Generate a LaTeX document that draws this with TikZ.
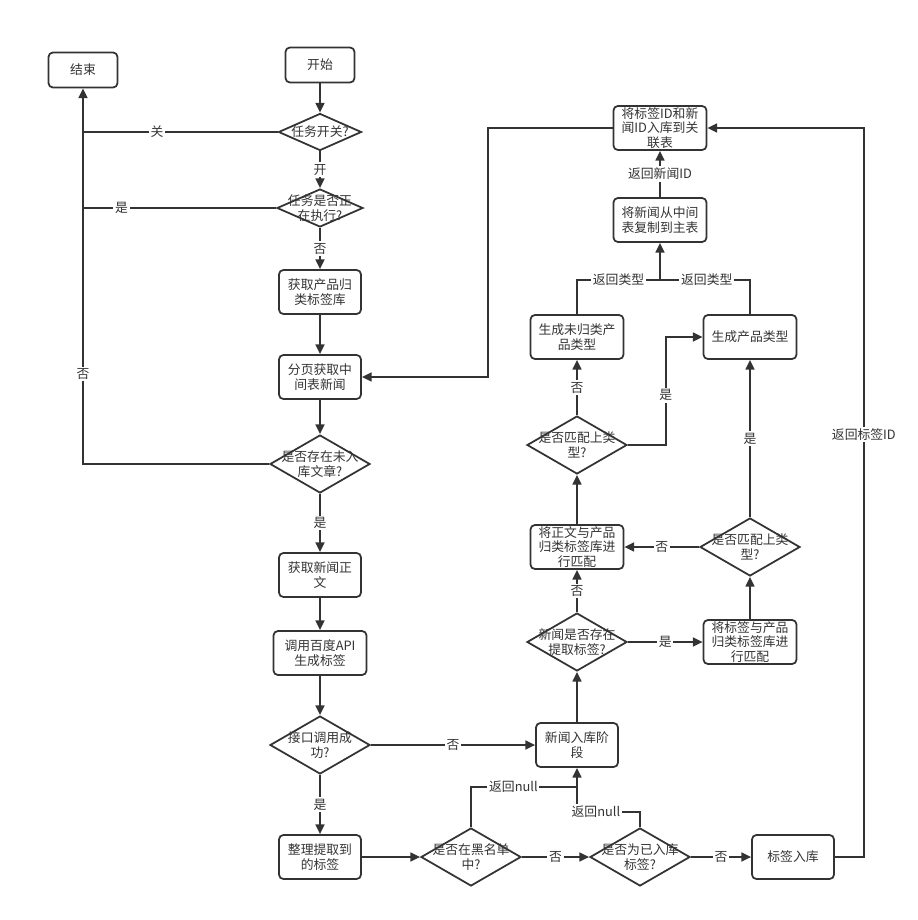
\documentclass[tikz,border=0pt]{standalone}
\usepackage{fontspec}
\setmainfont{Noto Sans CJK SC}
\usetikzlibrary{shapes.geometric,arrows.meta}
\definecolor{ink}{HTML}{333333}
\tikzset{
  box/.style={draw=ink, line width=1pt, rounded corners=2.5pt, minimum width=1.64cm, minimum height=0.88cm, align=center, inner sep=0.5pt, text=ink},
  widebox/.style={box, minimum width=1.86cm},
  termbox/.style={box, minimum width=1.38cm, minimum height=0.7cm},
  decision/.style={draw=ink, line width=1pt, diamond, minimum width=2cm, minimum height=1.16cm, inner sep=0pt, label={[align=center, text=ink]center:#1}},
  line/.style={draw=ink, line width=1pt},
  arr/.style={line, -{Triangle[length=5.5pt,width=5pt]}},
  lbl/.style={fill=white, inner sep=1pt, text=ink},
}
\begin{document}
\begin{tikzpicture}[x=0.02cm, y=-0.02cm, font=\fontsize{7.3}{8.3}\selectfont]
    \useasboundingbox (0,0) rectangle (918,920);
    \node[termbox] (end) at (83,70) {结束};
    \node[termbox] (start) at (320,65) {开始};
    \node[decision={任务开关?}, minimum width=1.66cm, minimum height=0.74cm] (sw) at (320,132) {};
    \node[decision={任务是否正\\在执行?}, minimum width=1.72cm, minimum height=0.76cm] (run) at (320,208) {};
    \node[box] (lib) at (320,292) {获取产品归\\类标签库};
    \node[box] (page) at (320,377) {分页获取中\\间表新闻};
    \node[decision={是否存在未入\\库文章?}] (exist) at (320,464) {};
    \node[box] (body) at (320,575) {获取新闻正\\文};
    \node[widebox] (api) at (320,653) {调用百度API\\生成标签};
    \node[decision={接口调用成\\功?}] (ok) at (320,745) {};
    \node[box] (tidy) at (320,857) {整理提取到\\的标签};
    \node[decision={是否在黑名单\\中?}] (black) at (471,857) {};
    \node[decision={是否为已入库\\标签?}] (stored) at (640,857) {};
    \node[box] (tagin) at (793,857) {标签入库};
    \node[box] (stage) at (577,745) {新闻入库阶\\段};
    \node[decision={新闻是否存在\\提取标签?}] (hastag) at (577,642) {};
    \node[widebox] (tagmatch) at (750,642) {将标签与产品\\归类标签库进\\行匹配};
    \node[decision={是否匹配上类\\型?}] (rmatch) at (750,547) {};
    \node[widebox] (bodymatch) at (577,547) {将正文与产品\\归类标签库进\\行匹配};
    \node[decision={是否匹配上类\\型?}] (lmatch) at (577,445) {};
    \node[widebox] (uncls) at (577,337) {生成未归类产\\品类型};
    \node[widebox] (gen) at (750,337) {生成产品类型};
    \node[widebox] (copy) at (660,220) {将新闻从中间\\表复制到主表};
    \node[widebox] (rel) at (660,128) {将标签ID和新\\闻ID入库到关\\联表};
    \coordinate (merge) at (660,280);
    \coordinate (nullj) at (577,787);
    \coordinate (nullk) at (577,812);
    \draw[arr] (start) -- (sw);
    \draw[arr] (sw) -- node[lbl]{开} (run);
    \draw[arr] (run) -- node[lbl]{否} (lib);
    \draw[arr] (lib) -- (page);
    \draw[arr] (page) -- (exist);
    \draw[arr] (exist) -- node[lbl]{是} (body);
    \draw[arr] (body) -- (api);
    \draw[arr] (api) -- (ok);
    \draw[arr] (ok) -- node[lbl]{是} (tidy);
    \draw[arr] (ok.east) -- node[lbl]{否} (stage.west);
    \draw[line] (sw.west) -- node[lbl, pos=0.62]{关} (sw.west -| end.south);
    \draw[line] (run.west) -- node[lbl, pos=0.8]{是} (run.west -| end.south);
    \draw[arr] (exist.west) -| node[lbl, pos=0.62]{否} (end.south);
    \draw[arr] (tidy) -- (black);
    \draw[arr] (black) -- node[lbl]{否} (stored);
    \draw[arr] (stored) -- node[lbl]{否} (tagin);
    \draw[arr] (tagin.east) -- ++(29,0) |- node[lbl, pos=0.29]{返回标签ID} (rel.east);
    \draw[line] (black.north) |- node[lbl, pos=0.7]{返回null} (nullj);
    \draw[arr] (stored.north) |- node[lbl, pos=0.85]{返回null} (nullk) -- (stage.south);
    \draw[arr] (stage) -- (hastag);
    \draw[arr] (hastag) -- node[lbl]{是} (tagmatch);
    \draw[arr] (hastag) -- node[lbl]{否} (bodymatch);
    \draw[arr] (tagmatch) -- (rmatch);
    \draw[arr] (rmatch) -- node[lbl]{否} (bodymatch);
    \draw[arr] (rmatch) -- node[lbl]{是} (gen);
    \draw[arr] (bodymatch) -- (lmatch);
    \draw[arr] (lmatch) -- node[lbl]{否} (uncls);
    \draw[arr] (lmatch.east) -- ++(38,0) |- node[lbl, pos=0.23]{是} (gen.west);
    \draw[line] (uncls.north) |- node[lbl, pos=0.75]{返回类型} (merge);
    \draw[line] (gen.north) |- node[lbl, pos=0.74]{返回类型} (merge);
    \draw[arr] (merge) -- (copy.south);
    \draw[arr] (copy) -- node[lbl]{返回新闻ID} (rel);
    \draw[arr] (rel.west) -- ++(-125,0) |- (page.east);
  \end{tikzpicture}
\end{document}
